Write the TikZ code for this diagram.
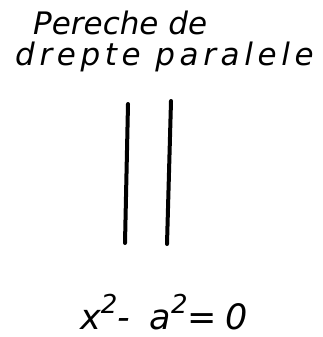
\documentclass[tikz,border=0pt]{standalone}
\usepackage{fontspec}
\setmainfont{DejaVu Sans}
\begin{document}
\begin{tikzpicture}[x=1pt,y=-1pt,
  lbl/.style={font=\itshape\fontsize{31}{33}\selectfont, inner sep=0pt, anchor=base west},
  ln/.style={line width=4pt, line cap=round}]
\useasboundingbox (0,0) rectangle (323,337);
\node[lbl] (t1) at (33,35) {Pereche de};
\node[lbl] (t2) at (15,66) {\addfontfeatures{LetterSpace=15}drepte paralele};
\coordinate (a1) at (128,104);
\coordinate (a2) at (125,243);
\coordinate (b1) at (171,101);
\coordinate (b2) at (167,244);
\draw[ln] (a1) -- (a2);
\draw[ln] (b1) -- (b2);
\node[lbl, text depth=0pt, font=\itshape\fontsize{35}{37}\selectfont] (eq) at (80,329) {\addfontfeatures{LetterSpace=24}x\raisebox{0.8ex}{\fontsize{26}{28}\selectfont 2}- a\raisebox{0.8ex}{\fontsize{26}{28}\selectfont 2}=0};
\end{tikzpicture}
\end{document}
